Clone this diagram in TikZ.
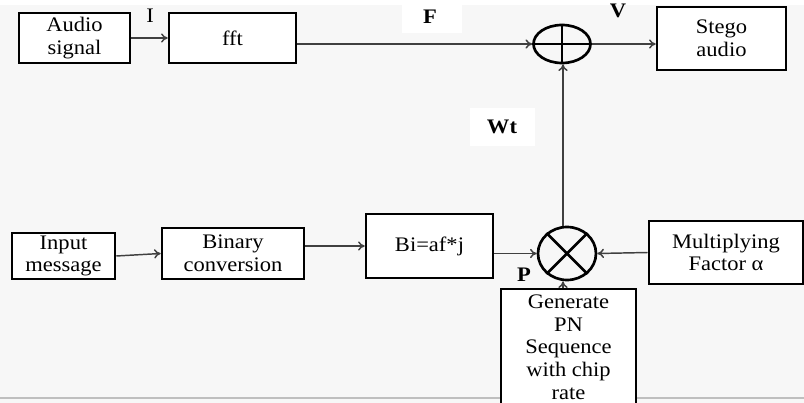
\documentclass[tikz,border=0pt]{standalone}
\usepackage{fontspec}
\setmainfont[FakeStretch=1.09]{Liberation Serif}
\usetikzlibrary{shapes.geometric,arrows.meta}
\begin{document}
\begin{tikzpicture}[x=0.75pt,y=-0.75pt,
  txt/.style={font=\fontsize{15.5}{17}\selectfont},
  sz/.style n args={2}{minimum width=#1*0.75pt,minimum height=#2*0.75pt},
  blk/.style={draw=black,line width=1.9pt,rectangle,txt,align=center,inner sep=0pt,fill=white},
  circ/.style={draw=black,line width=2pt,ellipse,inner sep=0pt},
  arr/.style={draw=black!75,line width=1.1pt,-{To[length=5pt,width=7pt]}},
  lbl/.style={txt,inner sep=1pt}]
\useasboundingbox (0,0) rectangle (804,403);
\clip (0,0) rectangle (804,403);
\fill[black!3] (0,5) rectangle (804,403);
\fill[white] (0,0) rectangle (804,5);
\fill[white] (402,2) rectangle (462,33);
\fill[white] (470,108) rectangle (535,146);
\draw[black!25,line width=1.5pt] (0,398) -- (804,398);
% top row
\node[blk,sz={111}{50}] (audio) at (74.5,38) {Audio\\signal};
\node[blk,sz={127}{50}] (fft) at (232.5,38) {fft};
\node[circ,sz={57}{38}] (adder) at (562,44) {};
\draw[line width=2pt] (adder.north) -- (adder.south) (adder.west) -- (adder.east);
\node[blk,sz={129}{63}] (stego) at (721.5,38.5) {Stego\\audio};
% bottom row
\node[blk,sz={103}{46}] (input) at (63.5,256) {Input\\message};
\node[blk,sz={142}{51}] (binary) at (233,253.5) {Binary\\conversion};
\node[blk,sz={127}{64}] (bi) at (429.5,246) {Bi=af*j};
\node[circ,sz={58}{53}] (mult) at (567,253.5) {};
\draw[line width=2pt] (mult.45) -- (mult.225) (mult.135) -- (mult.315);
\node[blk,sz={154}{63}] (factor) at (726,252.5) {Multiplying\\Factor α};
\node[blk,sz={135}{116}] (pn) at (568.5,347) {Generate\\PN\\Sequence\\with chip\\rate};
% connectors
\draw[arr] (audio.east) -- (fft.west);
\draw[arr] (fft.east |- adder.west) -- (adder.west);
\draw[arr] (adder.east) -- (stego.west |- adder.east);
\draw[arr] (input.east) -- (binary.west);
\draw[arr] (binary.east |- bi.west) -- (bi.west);
\draw[arr] (bi.east |- mult.west) -- (mult.west);
\draw[arr] (factor.west) -- (mult.east);
\draw[arr] (pn.north -| 563,0) -- (mult.south -| 563,0);
\draw[arr] (mult.north -| 563,0) -- (adder.south -| 563,0);
% labels
\node[lbl] (lI) at (150,16) {I};
\node[lbl] (lF) at (430,17) {\textbf{F}};
\node[lbl] (lV) at (618,11) {\textbf{V}};
\node[lbl] (lW) at (502,127) {\textbf{Wt}};
\node[lbl] (lP) at (524,275) {\textbf{P}};
\end{tikzpicture}
\end{document}
